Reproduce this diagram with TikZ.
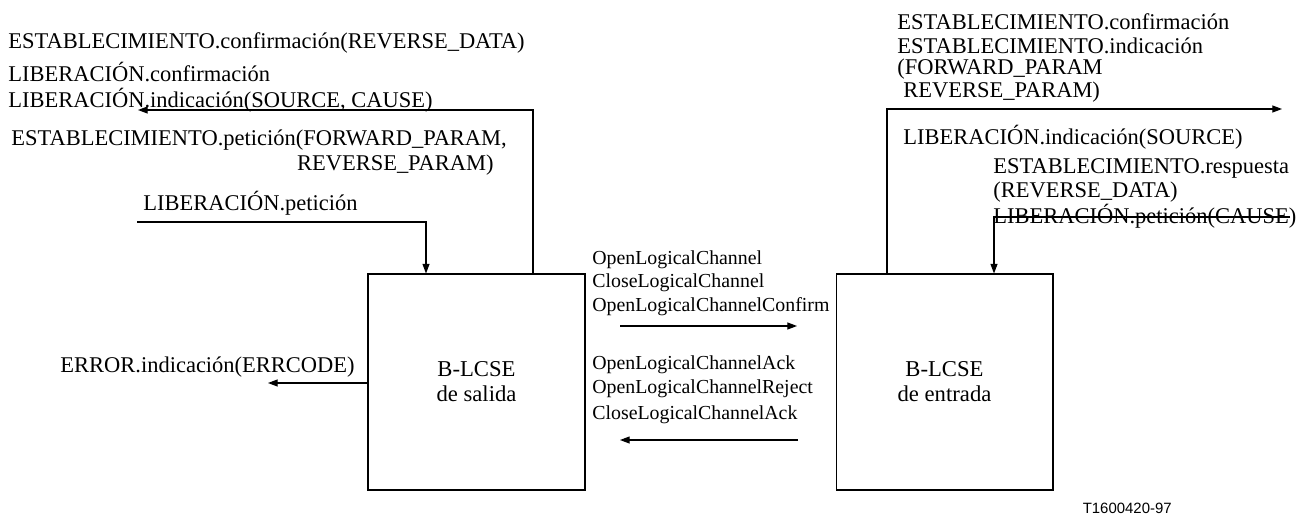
\documentclass[tikz,border=0pt]{standalone}
\usepackage{fontspec}
\setmainfont{Liberation Serif}
\newfontfamily\refsans{Liberation Sans}
\usetikzlibrary{arrows.meta}

\tikzset{
  flow/.style={line width=0.6pt, -{Triangle[length=5.5pt,width=4pt]}},
  prim/.style={anchor=west, inner sep=0pt, font=\fontsize{12.8}{15}\selectfont},
  msg/.style={anchor=west, inner sep=0pt, font=\fontsize{11.3}{13}\selectfont},
  lcse/.style={draw, line width=0.6pt, minimum width=4.34cm, minimum height=4.32cm,
    align=center, inner sep=0pt, font=\fontsize{12.9}{14.2}\selectfont}
}

\begin{document}
\begin{tikzpicture}[x=0.02cm, y=-0.02cm]
	\useasboundingbox (0, 0) rectangle (1315, 517);

	% the two entities
	\node[lcse] at (476.5, 382) (sal) {B-LCSE\\de salida};
	\node[lcse] at (944.5, 382) (ent) {B-LCSE\\de entrada};

	% primitives of the outgoing side
	\node[prim] at (8, 43) (estconf) {ESTABLECIMIENTO.confirmación(REVERSE\_DATA)};
	\node[prim] at (8, 72) (relconf) {LIBERACIÓN.confirmación};
	\node[prim] at (8, 100) (relind) {LIBERACIÓN.indicación(SOURCE, CAUSE)};
	\node[prim] at (11, 140) (estpet) {ESTABLECIMIENTO.petición(FORWARD\_PARAM,};
	\node[prim, anchor=east] at (494, 165) (estpetb) {REVERSE\_PARAM)};
	\node[prim] at (143, 203) (relpet) {LIBERACIÓN.petición};
	\node[prim, anchor=east] at (355, 367) (errind) {ERROR.indicación(ERRCODE)};

	\coordinate (upsal) at (533, 110);
	\coordinate (tosal) at (138, 110);
	\coordinate (frompet) at (137, 222);
	\coordinate (downsal) at (426, 222);
	\coordinate (toerr) at (268, 383);

	\draw[flow] (sal.north -| upsal) |- (tosal);
	\draw[flow] (frompet) -| (sal.north -| downsal);
	\draw[flow] (sal.west |- toerr) -- (toerr);

	% messages between the peers
	\node[msg] at (592, 260) (olc) {OpenLogicalChannel};
	\node[msg] at (592, 283) (clc) {CloseLogicalChannel};
	\node[msg] at (592, 307) (olcc) {OpenLogicalChannelConfirm};
	\node[msg] at (592, 365) (olca) {OpenLogicalChannelAck};
	\node[msg] at (592, 389) (olcr) {OpenLogicalChannelReject};
	\node[msg] at (592, 415) (clca) {CloseLogicalChannelAck};

	\coordinate (fwda) at (620, 326);
	\coordinate (fwdb) at (797, 326);
	\coordinate (bwda) at (798, 440);
	\coordinate (bwdb) at (620, 440);
	\draw[flow] (fwda) -- (fwdb);
	\draw[flow] (bwda) -- (bwdb);

	% primitives of the incoming side
	\node[prim] at (897, 22) (estconfb) {ESTABLECIMIENTO.confirmación};
	\node[prim] at (897, 46) (estind) {ESTABLECIMIENTO.indicación};
	\node[prim] at (897, 69) (estinda) {(FORWARD\_PARAM};
	\node[prim] at (903, 92) (estindb) {REVERSE\_PARAM)};
	\node[prim] at (903, 137) (relindb) {LIBERACIÓN.indicación(SOURCE)};
	\node[prim] at (993, 168) (estres) {ESTABLECIMIENTO.respuesta};
	\node[prim] at (993, 192) (estresb) {(REVERSE\_DATA)};
	\node[prim] at (993, 216) (relpetb) {LIBERACIÓN.petición(CAUSE)};

	\coordinate (upent) at (887, 109);
	\coordinate (toent) at (1282, 109);
	\coordinate (fromcause) at (1290, 217);
	\coordinate (downent) at (994, 217);

	\draw[flow] (ent.north -| upent) |- (toent);
	\draw[flow] (fromcause) -| (ent.north -| downent);

	\node[anchor=east, inner sep=0pt, font=\refsans\fontsize{8.5}{10}\selectfont] at (1172, 508) (fig) {T1600420-97};
\end{tikzpicture}
\end{document}
